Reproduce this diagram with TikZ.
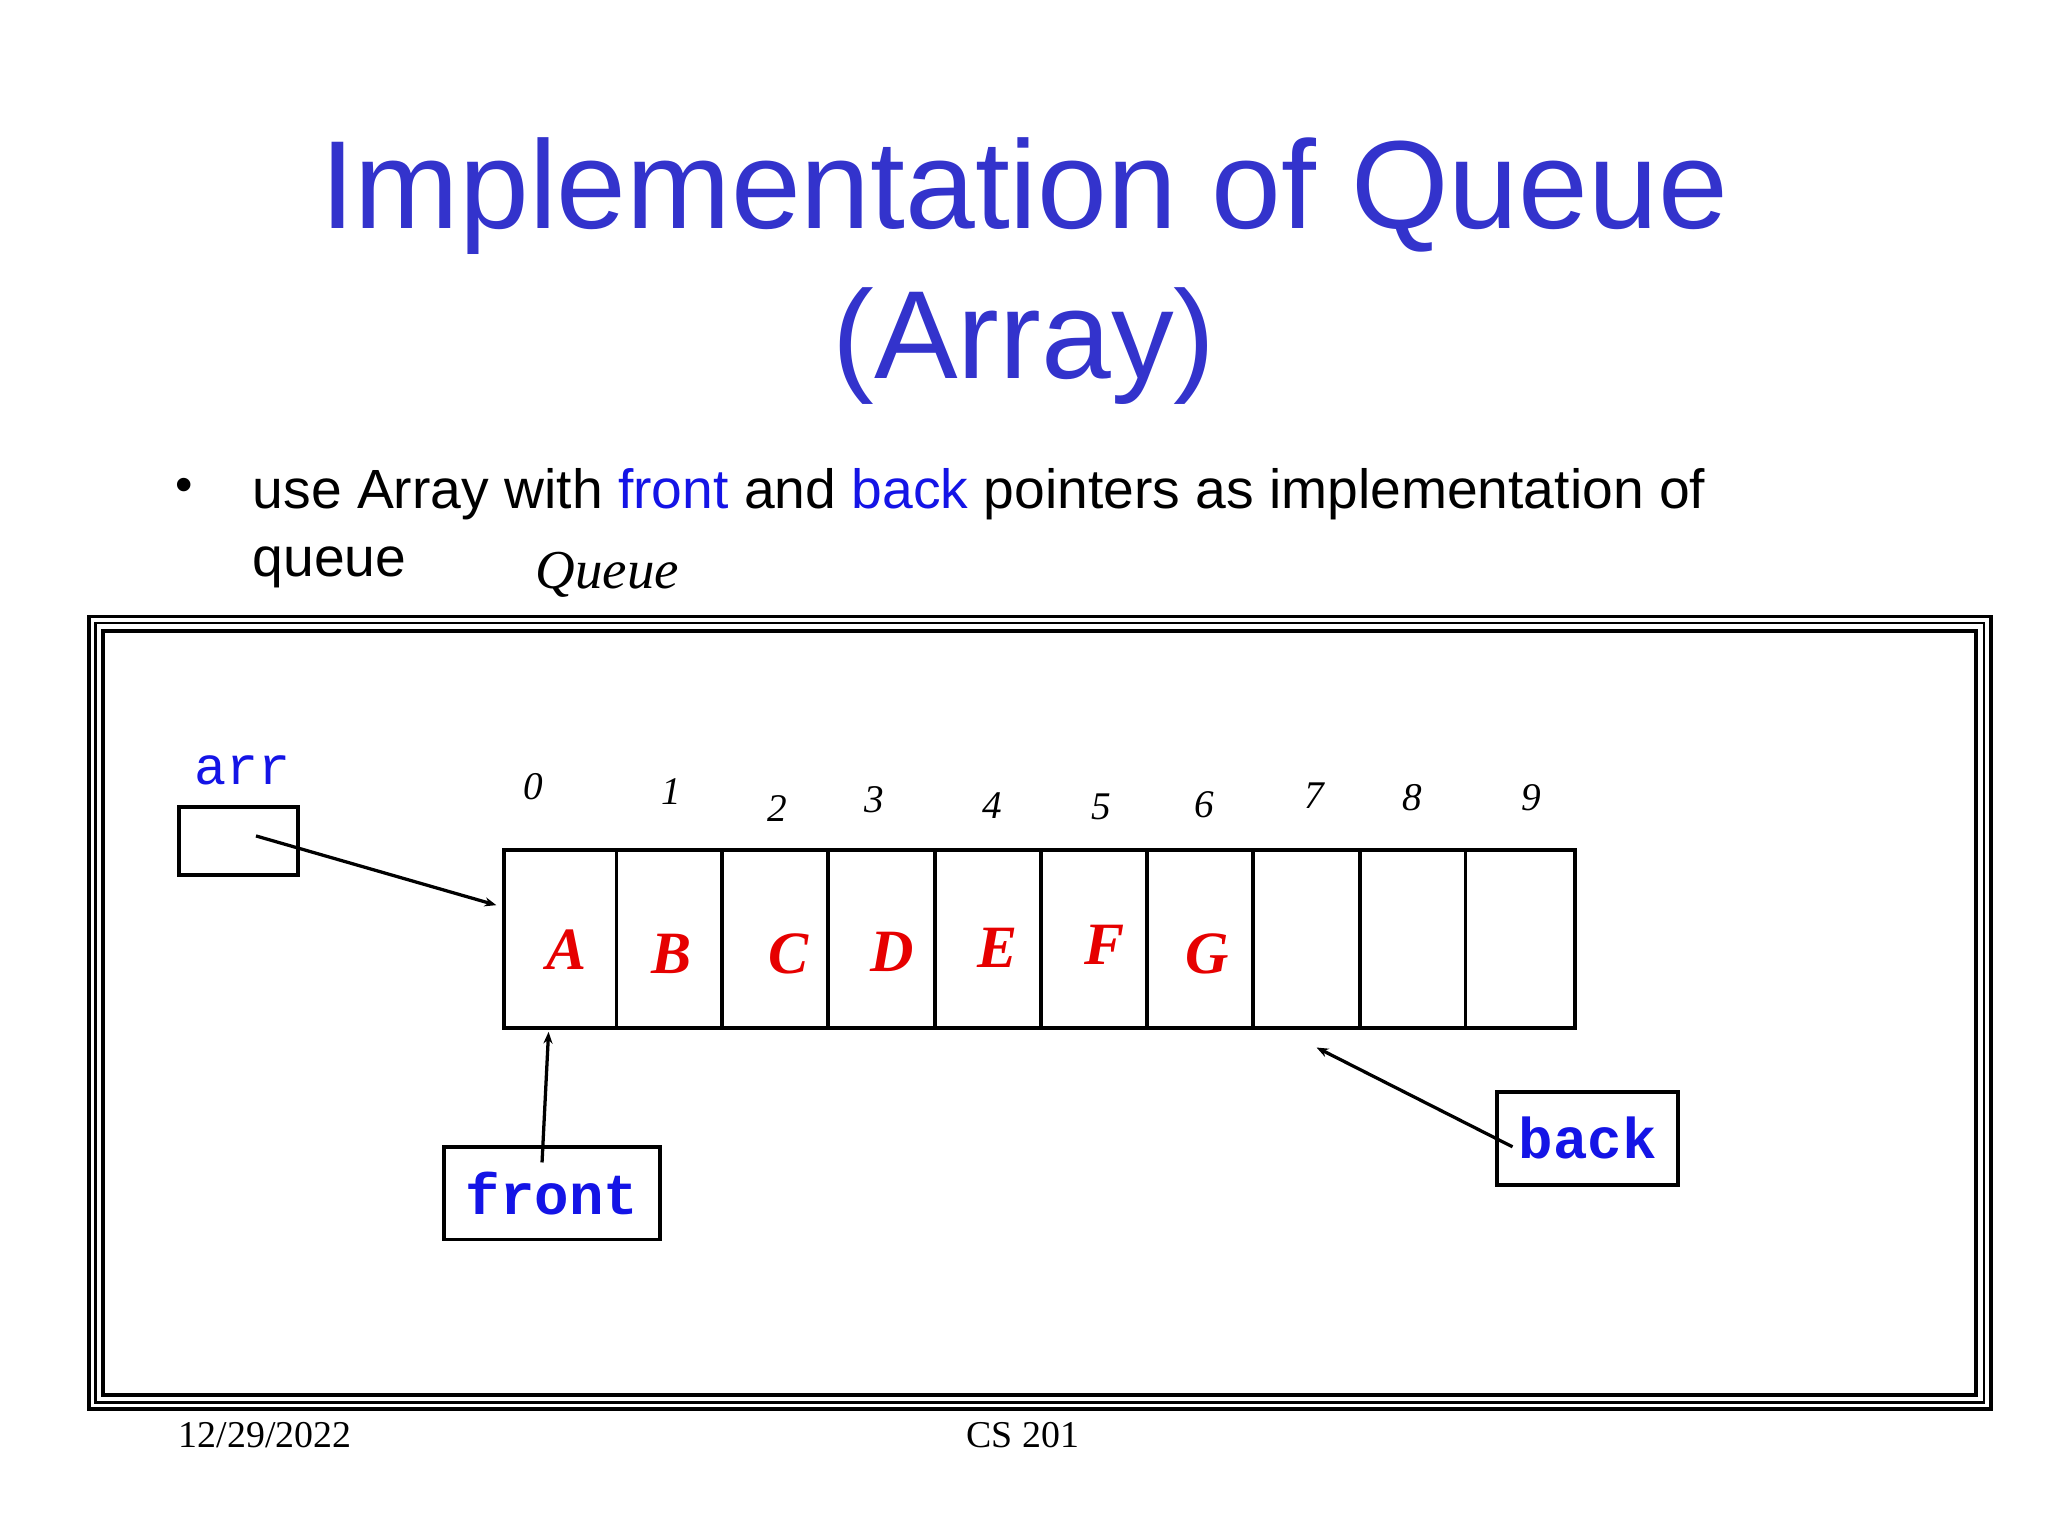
\documentclass[tikz,border=0pt]{standalone}
\usepackage{fontspec}
\setmainfont{Liberation Serif}
\setsansfont{Liberation Sans}
\setmonofont{Liberation Mono}
\usetikzlibrary{arrows.meta}
\definecolor{ttl}{RGB}{51,51,204}
\definecolor{kw}{RGB}{20,20,230}
\definecolor{lr}{RGB}{230,0,0}
\begin{document}
\begin{tikzpicture}[x=1pt,y=-1pt,
  cell/.style={draw,line width=3pt},
  idx/.style={font=\fontsize{30}{30}\selectfont\itshape},
  let/.style={text=lr,font=\fontsize{46}{46}\selectfont\bfseries\itshape},
  ptr/.style={draw,line width=3pt,minimum height=71pt,text=kw,font=\fontsize{44}{44}\selectfont\ttfamily\bfseries},
  arr/.style={line width=2.5pt,-{Stealth[length=9pt,width=7pt]}}]
\useasboundingbox (0,0) rectangle (1568,1176);
\node[text=ttl,font=\fontsize{96}{96}\sffamily] (t1) at (784,150) {Implementation of Queue};
\node[text=ttl,font=\fontsize{96}{96}\sffamily] (t2) at (784,265) {(Array)};
\node[font=\fontsize{38}{38}\sffamily] (bul) at (141,375) {•};
\node[anchor=base west,font=\fontsize{42.3}{42.3}\sffamily] (l1) at (190,389) {use Array with \textcolor{kw}{front} and \textcolor{kw}{back} pointers as implementation of};
\node[anchor=base west,font=\fontsize{42.3}{42.3}\sffamily] (l2) at (190,441) {queue};
\node[font=\fontsize{42}{42}\selectfont\itshape] (q) at (465,440) {Queue};
% frame
\draw[line width=3pt] (68,472) rectangle (1524,1079);
\draw[line width=2pt] (73,477) rectangle (1519,1074);
\draw[line width=3pt] (79,483) rectangle (1513,1068);
% arr
\node[text=kw,font=\fontsize{41}{41}\ttfamily] (arrl) at (186,590) {arr};
\node[draw,line width=3pt,minimum width=91pt,minimum height=52pt] (arrbox) at (182.5,644) {};
\coordinate (arrs) at (196,640);
% array
\node[cell,minimum width=820pt,minimum height=136pt] (array) at (796,719) {};
\foreach \x in {472,553,634,716,797,878,959,1041,1122}
  \draw[line width=3pt] (\x,651) -- (\x,787);
\foreach \t/\x/\y in {0/408/602,1/514/606,2/595/619,3/669/612,4/760/617,5/843/618,6/922/616,7/1006/609,8/1081/611,9/1172/611}
  \node[idx] (i\t) at (\x,\y) {\t};
\foreach \t/\x/\y in {A/434/727,B/514/730,C/604/730,D/683/729,E/764/726,F/846/723,G/924/730}
  \node[let] (c\t) at (\x,\y) {\t};
\coordinate (arrt) at (380,693);
\draw[arr] (arrs) -- (arrt);
% front / back
\node[ptr,minimum width=165pt] (front) at (422.5,913.5) {front};
\node[ptr,minimum width=139pt] (back) at (1215.5,871.5) {back};
\coordinate (fs) at (415,890);
\coordinate (ft) at (420,790);
\coordinate (bs) at (1158,878);
\coordinate (bt) at (1008,802);
\draw[arr] (fs) -- (ft);
\draw[arr] (bs) -- (bt);
% footer
\node[font=\fontsize{29}{29}\selectfont] (date) at (203,1099) {12/29/2022};
\node[font=\fontsize{29}{29}\selectfont] (cs) at (783,1099) {CS 201};
\end{tikzpicture}
\end{document}
